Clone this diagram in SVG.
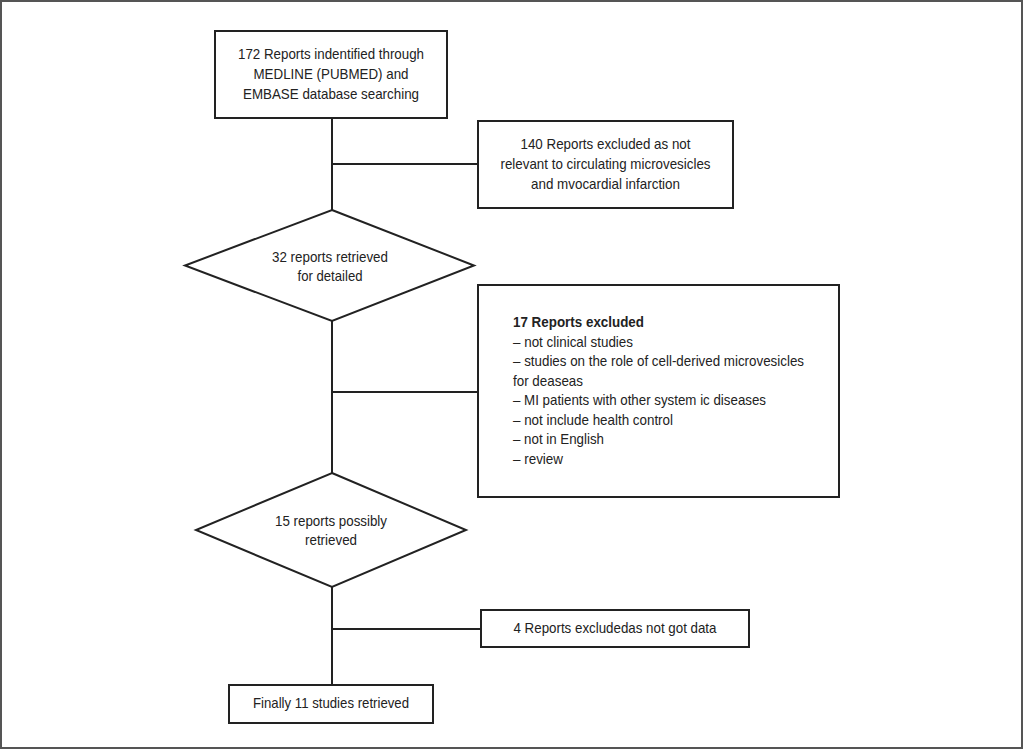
<svg xmlns="http://www.w3.org/2000/svg" width="1024" height="750" viewBox="0 0 1024 750">
<style>
.box{fill:#fff;stroke:#222;stroke-width:2}
.ln{stroke:#222;stroke-width:2;fill:none}
text{font-family:"Liberation Sans",Arial,sans-serif;font-size:15px;fill:#222}
.c{text-anchor:middle}
.b{font-weight:bold}
</style>
<rect x="0" y="0" width="1024" height="750" fill="#fff"/>
<rect x="1" y="1" width="1021" height="747" fill="none" stroke="#555" stroke-width="2"/>
<g id="connectors">
<line class="ln" x1="332" y1="118" x2="332" y2="210"/>
<line class="ln" x1="332" y1="321" x2="332" y2="473"/>
<line class="ln" x1="332" y1="587" x2="332" y2="685"/>
<line class="ln" x1="332" y1="164" x2="478" y2="164"/>
<line class="ln" x1="332" y1="392" x2="478" y2="392"/>
<line class="ln" x1="332" y1="629" x2="481" y2="629"/>
</g>
<g id="n1">
<rect class="box" x="215" y="31" width="232" height="87"/>
<text class="c" x="331" y="59" textLength="186" lengthAdjust="spacingAndGlyphs">172 Reports indentified through</text>
<text class="c" x="331" y="79" textLength="155" lengthAdjust="spacingAndGlyphs">MEDLINE (PUBMED) and</text>
<text class="c" x="331" y="99" textLength="176" lengthAdjust="spacingAndGlyphs">EMBASE database searching</text>
</g>
<g id="n2">
<rect class="box" x="478" y="121" width="255" height="87"/>
<text class="c" x="605.5" y="149" textLength="170" lengthAdjust="spacingAndGlyphs">140 Reports excluded as not</text>
<text class="c" x="605.5" y="169" textLength="210" lengthAdjust="spacingAndGlyphs">relevant to circulating microvesicles</text>
<text class="c" x="605.5" y="189" textLength="149" lengthAdjust="spacingAndGlyphs">and mvocardial infarction</text>
</g>
<g id="n3">
<polygon class="box" points="332,210 474,265.5 332,321 185,265.5"/>
<text class="c" x="330" y="262" textLength="116" lengthAdjust="spacingAndGlyphs">32 reports retrieved</text>
<text class="c" x="330" y="281" textLength="65" lengthAdjust="spacingAndGlyphs">for detailed</text>
</g>
<g id="n4">
<rect class="box" x="478" y="285" width="361" height="212"/>
<text class="b" x="513" y="327" textLength="131" lengthAdjust="spacingAndGlyphs">17 Reports excluded</text>
<text x="513" y="346.5" textLength="120" lengthAdjust="spacingAndGlyphs">– not clinical studies</text>
<text x="513" y="366" textLength="291" lengthAdjust="spacingAndGlyphs">– studies on the role of cell-derived microvesicles</text>
<text x="513" y="385.5" textLength="70" lengthAdjust="spacingAndGlyphs">for deaseas</text>
<text x="513" y="405" textLength="253" lengthAdjust="spacingAndGlyphs">– MI patients with other system ic diseases</text>
<text x="513" y="424.5" textLength="160" lengthAdjust="spacingAndGlyphs">– not include health control</text>
<text x="513" y="444" textLength="91" lengthAdjust="spacingAndGlyphs">– not in English</text>
<text x="513" y="463.5" textLength="50" lengthAdjust="spacingAndGlyphs">– review</text>
</g>
<g id="n5">
<polygon class="box" points="332,473 466,530 332,587 196,530"/>
<text class="c" x="331" y="526" textLength="112" lengthAdjust="spacingAndGlyphs">15 reports possibly</text>
<text class="c" x="331" y="545" textLength="52" lengthAdjust="spacingAndGlyphs">retrieved</text>
</g>
<g id="n6">
<rect class="box" x="481" y="610" width="268" height="37"/>
<text class="c" x="615" y="633" textLength="203" lengthAdjust="spacingAndGlyphs">4 Reports excludedas not got data</text>
</g>
<g id="n7">
<rect class="box" x="229" y="685" width="204" height="38"/>
<text class="c" x="331" y="708" textLength="156" lengthAdjust="spacingAndGlyphs">Finally 11 studies retrieved</text>
</g>
</svg>
